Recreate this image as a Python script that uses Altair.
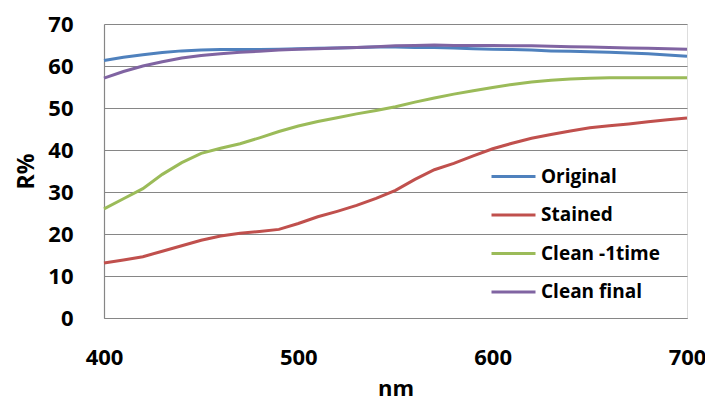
import altair as alt
import pandas as pd

wavelength = list(range(400, 701, 10))

original = [61.3, 62.1, 62.7, 63.2, 63.6, 63.8, 63.9, 63.9, 63.9, 64.0, 64.1,
            64.2, 64.3, 64.4, 64.5, 64.5, 64.4, 64.4, 64.3, 64.1, 64.0,
            63.9, 63.8, 63.6, 63.5, 63.4, 63.3, 63.1, 62.9, 62.6, 62.3]
stained = [13.1, 13.8, 14.6, 15.9, 17.2, 18.5, 19.5, 20.2, 20.6, 21.1, 22.5,
           24.1, 25.4, 26.8, 28.5, 30.4, 33.0, 35.3, 36.8, 38.6, 40.3,
           41.6, 42.8, 43.7, 44.5, 45.3, 45.8, 46.2, 46.7, 47.2, 47.6]
clean_1time = [26.0, 28.4, 30.8, 34.2, 37.0, 39.2, 40.4, 41.5, 42.9, 44.4, 45.7,
               46.8, 47.7, 48.6, 49.4, 50.3, 51.4, 52.4, 53.3, 54.1, 54.9,
               55.6, 56.2, 56.6, 56.9, 57.1, 57.2, 57.2, 57.2, 57.2, 57.2]
clean_final = [57.1, 58.7, 60.0, 61.0, 61.9, 62.5, 62.9, 63.3, 63.5, 63.8, 64.0,
               64.1, 64.3, 64.4, 64.6, 64.8, 64.9, 65.0, 64.9, 64.9, 64.9,
               64.8, 64.8, 64.7, 64.6, 64.5, 64.4, 64.3, 64.2, 64.1, 64.0]

series_names = ["Original", "Stained", "Clean -1time", "Clean final"]
series_colors = ["#4F81BD", "#C0504D", "#9BBB59", "#8064A2"]
x_ticks = [400, 500, 600, 700]
y_ticks = [0, 10, 20, 30, 40, 50, 60, 70]

rows = []
for name, vals in zip(series_names, [original, stained, clean_1time, clean_final]):
    for w, v in zip(wavelength, vals):
        rows.append({"nm": w, "R": v, "series": name, "order": series_names.index(name)})
df = pd.DataFrame(rows)

FONT = "Open Sans"

chart = alt.Chart(df).mark_line(strokeWidth=3).encode(
    x=alt.X("nm:Q",
            scale=alt.Scale(domain=[400, 700], nice=False),
            axis=alt.Axis(values=x_ticks, title="nm", grid=False, ticks=False,
                          labelFlush=False,
                          labelFont=FONT, labelFontSize=22, labelFontWeight="bold",
                          labelColor="black", labelPadding=29,
                          titleFont=FONT, titleFontSize=22, titleFontWeight="bold",
                          titleColor="black", titlePadding=10,
                          domainColor="#868686", domainWidth=1.2)),
    y=alt.Y("R:Q",
            scale=alt.Scale(domain=[0, 70], nice=False),
            axis=alt.Axis(values=y_ticks, title="R%", grid=True, ticks=False,
                          gridColor="#868686", gridWidth=1,
                          labelFont=FONT, labelFontSize=22, labelFontWeight="bold",
                          labelColor="black", labelPadding=31,
                          titleFont=FONT, titleFontSize=23, titleFontWeight="bold",
                          titleColor="black", titlePadding=9,
                          domainColor="#868686", domainWidth=1.2)),
    color=alt.Color("series:N",
                    scale=alt.Scale(domain=series_names, range=series_colors),
                    legend=alt.Legend(orient="none", legendX=386, legendY=129,
                                      title=None, symbolType="stroke",
                                      symbolSize=1936, symbolStrokeWidth=3,
                                      labelFont=FONT, labelFontSize=19,
                                      labelFontWeight="bold", labelColor="black",
                                      labelOffset=4, rowPadding=4.5, padding=0)),
    order=alt.Order("order:Q"),
    detail="series:N",
).properties(
    width=583, height=294,
    autosize=alt.AutoSizeParams(type="none"),
    padding={"left": 96, "top": 16, "right": 18, "bottom": 84},
).configure_view(stroke=None).configure(background="white")

chart.save("out.html", embed_options={"renderer": "svg", "actions": False})
